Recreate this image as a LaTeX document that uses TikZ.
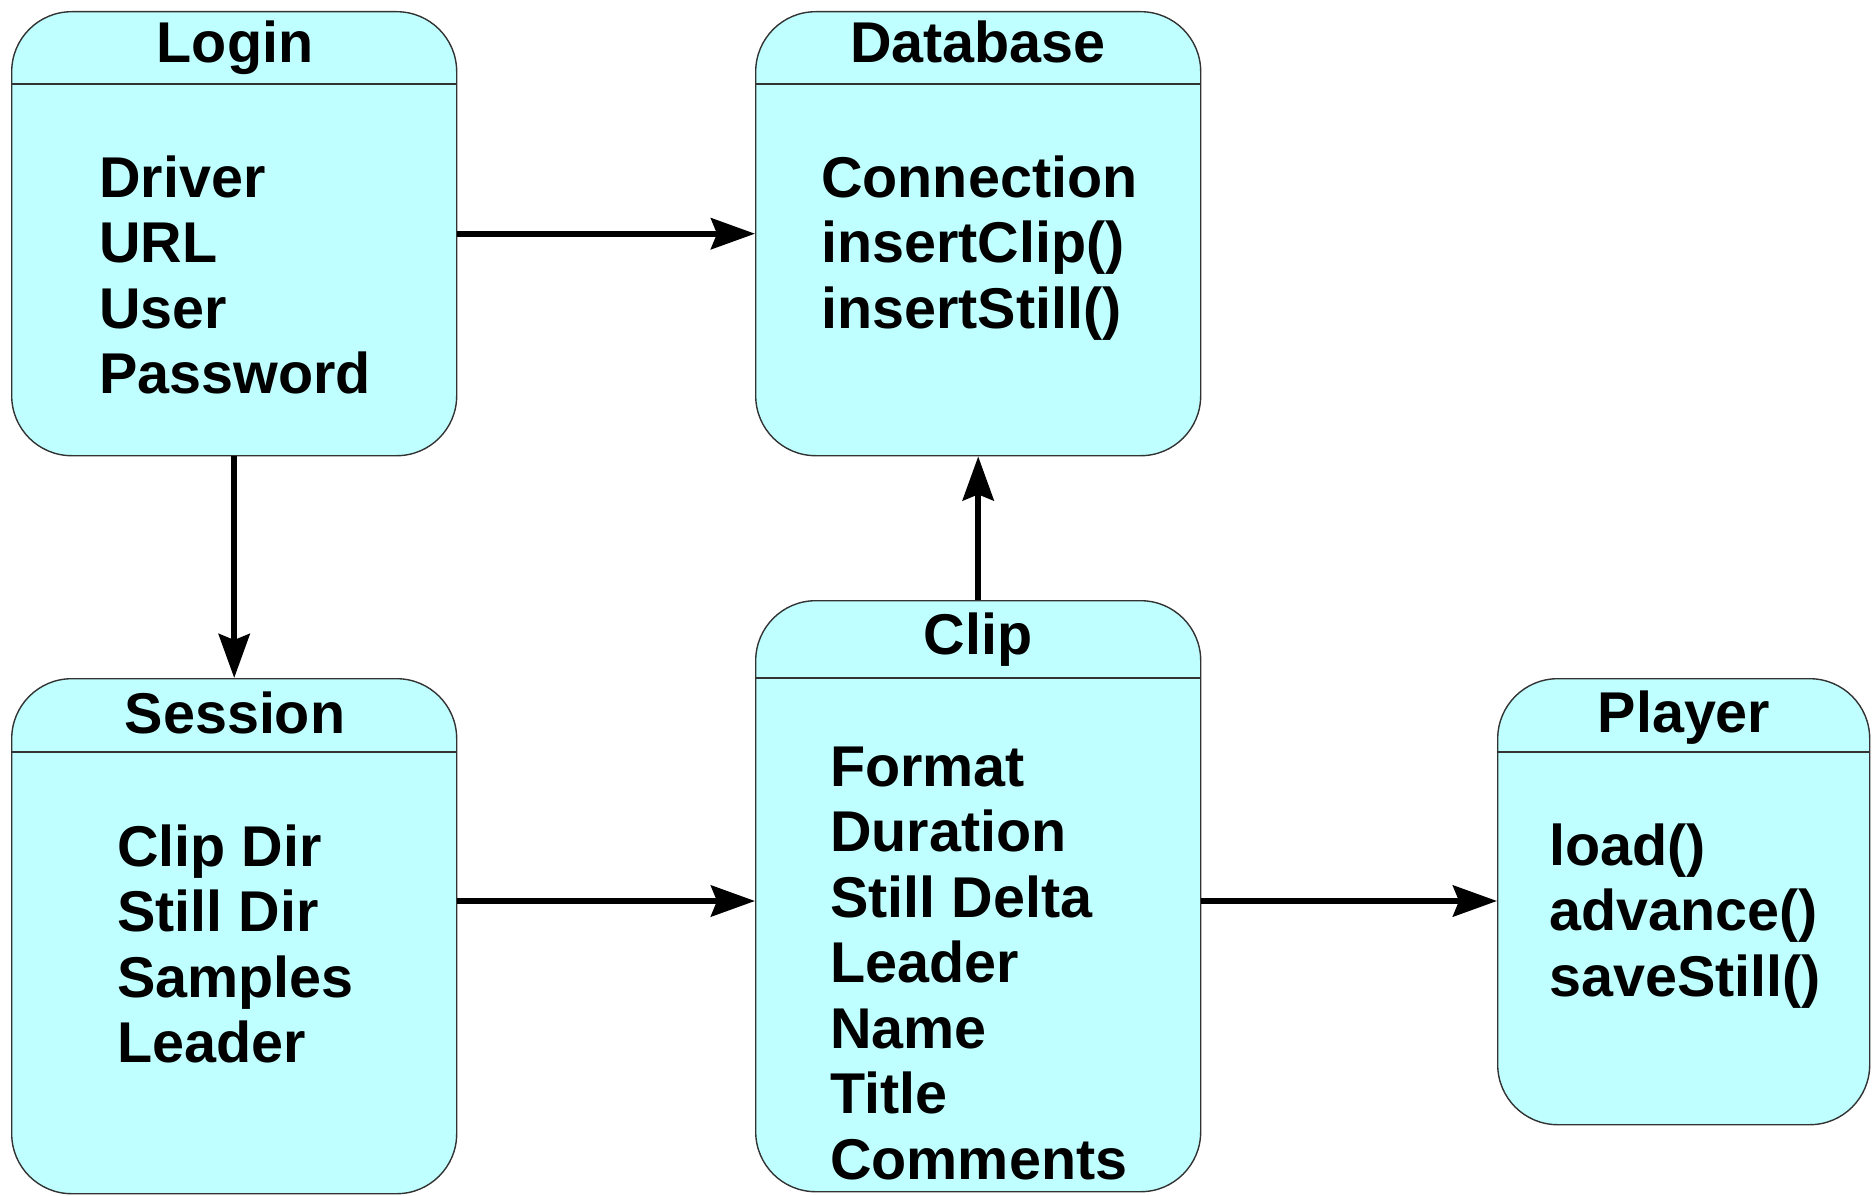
\documentclass[tikz,border=0pt]{standalone}
\usepackage{fontspec}
\setmainfont{Liberation Sans}
\usetikzlibrary{arrows.meta,calc}
\definecolor{boxfill}{HTML}{BFFFFF}
\definecolor{boxline}{HTML}{333333}
\tikzset{
  classbox/.style={draw=boxline, line width=1.4pt, fill=boxfill,
    rounded corners=60pt, inner sep=0pt, anchor=north west},
  headline/.style={draw=boxline, line width=1.4pt},
  title/.style={anchor=base, inner sep=0pt, font=\fontsize{57.5}{66}\selectfont\bfseries},
  item/.style={anchor=base west, inner sep=0pt, font=\fontsize{57.5}{66}\selectfont\bfseries},
  link/.style={line width=6pt, -{Stealth[length=44pt, width=31pt, inset=6pt]}}
}
\begin{document}
\begin{tikzpicture}[x=1pt, y=-1pt]
\useasboundingbox (0,0) rectangle (1876,1196);

% class boxes
\node[classbox, minimum width=445pt, minimum height=444pt] (login) at (11,11) {};
\node[classbox, minimum width=445pt, minimum height=444pt] (database) at (755,11) {};
\node[classbox, minimum width=445pt, minimum height=515pt] (session) at (11,678) {};
\node[classbox, minimum width=445pt, minimum height=591pt] (clip) at (755,600) {};
\node[classbox, minimum width=372pt, minimum height=446pt] (player) at (1497,678) {};

% header separators
\draw[headline] (login.west |- 0,84) -- (login.east |- 0,84);
\draw[headline] (database.west |- 0,84) -- (database.east |- 0,84);
\draw[headline] (session.west |- 0,752) -- (session.east |- 0,752);
\draw[headline] (clip.west |- 0,678) -- (clip.east |- 0,678);
\draw[headline] (player.west |- 0,752) -- (player.east |- 0,752);

% titles
\node[title] (login-t) at (235,63) {Login};
\node[title] (database-t) at (978,63) {Database};
\node[title] (session-t) at (235,733) {Session};
\node[title] (clip-t) at (978,654) {Clip};
\node[title] (player-t) at (1684,732) {Player};

% attributes and operations
\node[item] (login-1) at (99,197) {Driver};
\node[item] (login-2) at (99,262.5) {URL};
\node[item] (login-3) at (99,328) {User};
\node[item] (login-4) at (99,393.5) {Password};

\node[item] (database-1) at (821,197) {Connection};
\node[item] (database-2) at (821,262.5) {insertClip()};
\node[item] (database-3) at (821,328) {insertStill()};

\node[item] (session-1) at (117,866) {Clip Dir};
\node[item] (session-2) at (117,931.5) {Still Dir};
\node[item] (session-3) at (117,997) {Samples};
\node[item] (session-4) at (117,1062.5) {Leader};

\node[item] (clip-1) at (830,786) {Format};
\node[item] (clip-2) at (830,851.5) {Duration};
\node[item] (clip-3) at (830,917) {Still Delta};
\node[item] (clip-4) at (830,982.5) {Leader};
\node[item] (clip-5) at (830,1048) {Name};
\node[item] (clip-6) at (830,1113.5) {Title};
\node[item] (clip-7) at (830,1179) {Comments};

\node[item] (player-1) at (1549,865) {load()};
\node[item] (player-2) at (1549,930.5) {advance()};
\node[item] (player-3) at (1549,996) {saveStill()};

% associations
\coordinate (row) at (0,901);
\draw[link] (login.east) -- (database.west);
\draw[link] (login.south) -- (session.north);
\draw[link] (clip.north) -- (database.south);
\draw[link] (session.east |- row) -- (clip.west |- row);
\draw[link] (clip.east |- row) -- (player.west |- row);
\end{tikzpicture}
\end{document}
